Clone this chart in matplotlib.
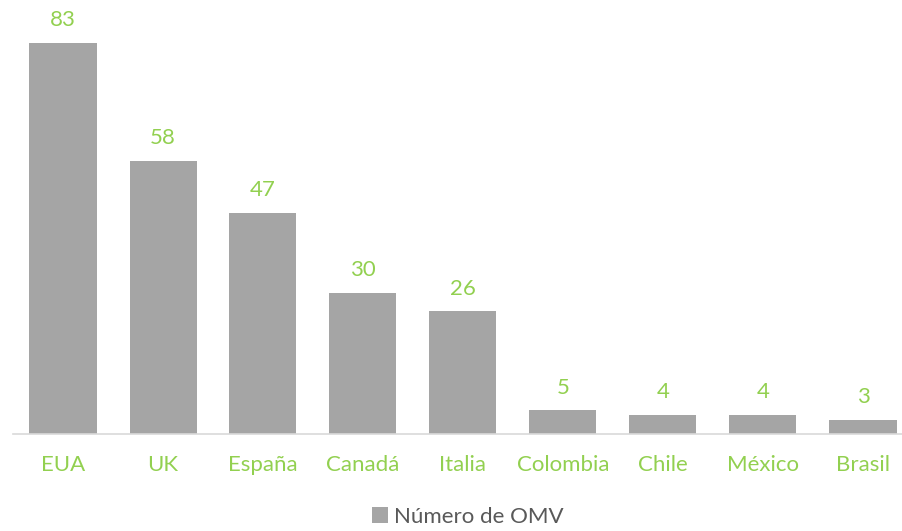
import matplotlib.pyplot as plt
from matplotlib.patches import Patch

# Data
countries = ["EUA", "UK", "España", "Canadá", "Italia", "Colombia", "Chile", "México", "Brasil"]
omv_count = [83, 58, 47, 30, 26, 5, 4, 4, 3]

bar_color = "#A5A5A5"
green = "#92D050"

plt.rcParams['font.family'] = ['Lato', 'DejaVu Sans']

fig = plt.figure(figsize=(9.03, 5.31), dpi=100)
ax = fig.add_axes([13 / 903, 97 / 531, 890 / 903, 434 / 531])

x = range(len(countries))
bars = ax.bar(x, omv_count, width=0.67, color=bar_color, zorder=2)

# value labels
for xi, v in zip(x, omv_count):
    ax.text(xi, v + 2.7, str(v), ha="center", va="bottom", color=green, fontsize=16)

ax.set_xlim(-0.5, 8.4)
ax.set_ylim(0, 92.1)
ax.set_yticks([])
ax.set_xticks(list(x))
ax.set_xticklabels(countries, color=green, fontsize=16)
ax.tick_params(axis="x", length=0, pad=15)

for side in ["top", "right", "left"]:
    ax.spines[side].set_visible(False)
ax.spines["bottom"].set_color("#D9D9D9")
ax.spines["bottom"].set_linewidth(1.2)

# legend
handle = Patch(facecolor=bar_color, edgecolor="none", label="Número de OMV")
fig.legend(handles=[handle], loc="center", bbox_to_anchor=(468 / 903, 1 - 517 / 531),
           frameon=False, fontsize=16, handlelength=0.7, handleheight=0.7,
           handletextpad=0.3, labelcolor="#595959")

fig.savefig("out.png", dpi=100)
